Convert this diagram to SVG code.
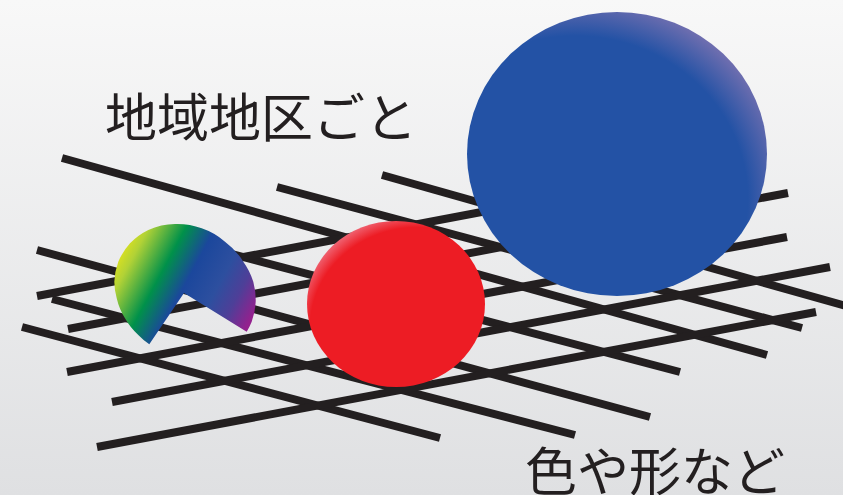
<svg xmlns="http://www.w3.org/2000/svg" width="843" height="495" viewBox="0 0 843 495">
  <defs>
    <linearGradient id="bg" x1="0" y1="0" x2="0" y2="1">
      <stop offset="0" stop-color="#f8f8f8"/>
      <stop offset="1" stop-color="#dfe0e2"/>
    </linearGradient>
    <linearGradient id="rainbow" gradientUnits="userSpaceOnUse" x1="120" y1="250" x2="250" y2="320">
      <stop offset="0" stop-color="#dfe21e"/>
      <stop offset="0.1" stop-color="#b2d236"/>
      <stop offset="0.32" stop-color="#00914a"/>
      <stop offset="0.5" stop-color="#1b479c"/>
      <stop offset="0.7" stop-color="#2d4f9f"/>
      <stop offset="0.85" stop-color="#4e3f98"/>
      <stop offset="1" stop-color="#93218e"/>
    </linearGradient>
    <radialGradient id="redg" cx="0.62" cy="0.64" r="0.7">
      <stop offset="0" stop-color="#ed1c24"/>
      <stop offset="0.86" stop-color="#ed1c24"/>
      <stop offset="1" stop-color="#f07080"/>
    </radialGradient>
    <radialGradient id="blueg" cx="0.36" cy="0.66" r="0.72">
      <stop offset="0" stop-color="#2352a5"/>
      <stop offset="0.8" stop-color="#2352a5"/>
      <stop offset="1" stop-color="#7470b0"/>
    </radialGradient>
    <style>
      .ln { stroke: #231f20; stroke-width: 8; stroke-linecap: butt; fill: none; }
      .lbl { font-family: "Noto Sans CJK JP", "Noto Sans CJK SC", sans-serif; font-size: 52px; fill: #231f20; }
    </style>
  </defs>

  <rect x="0" y="0" width="843" height="495" fill="url(#bg)"/>

  <g id="connectors">
    <line class="ln" x1="62" y1="158" x2="767" y2="355"/>
    <line class="ln" x1="277" y1="187" x2="802" y2="328"/>
    <line class="ln" x1="382" y1="175" x2="846" y2="306"/>
    <line class="ln" x1="190" y1="243" x2="680" y2="372"/>
    <line class="ln" x1="37" y1="250" x2="650" y2="417"/>
    <line class="ln" x1="52" y1="299" x2="575" y2="435"/>
    <line class="ln" x1="22" y1="327" x2="440" y2="438"/>
    <line class="ln" x1="37" y1="296" x2="720" y2="167"/>
    <line class="ln" x1="68" y1="329" x2="788" y2="193"/>
    <line class="ln" x1="67" y1="372" x2="787" y2="237"/>
    <line class="ln" x1="112" y1="402" x2="830" y2="267"/>
    <line class="ln" x1="97" y1="447" x2="816" y2="312"/>
  </g>

  <g id="pacman">
    <path fill="url(#rainbow)" d="M184,293 L149.3,344.3 A66,66 0 0 1 138.3,335 A66,66 0 0 1 125,318.3 A66,66 0 0 1 116.7,298.3 A66,66 0 0 1 114.3,281.7 A66,66 0 0 1 118.3,261.7 A66,66 0 0 1 130,243.3 A66,66 0 0 1 148.3,230 A66,66 0 0 1 175,224 A70,70 0 0 1 201.7,228.3 A70,70 0 0 1 225,241.7 A70,70 0 0 1 243.3,261.7 A70,70 0 0 1 253.3,281.7 A70,70 0 0 1 255.7,301.7 A70,70 0 0 1 251.7,321.7 A70,70 0 0 1 246.7,331.7 Z"/>
  </g>

  <g id="red-ball">
    <ellipse cx="396" cy="304" rx="89" ry="83" fill="url(#redg)"/>
  </g>

  <g id="blue-ball">
    <ellipse cx="617" cy="154" rx="150" ry="142" fill="url(#blueg)"/>
  </g>

  <g id="label-top">
    <text class="lbl" x="105" y="137">地域地区ごと</text>
  </g>

  <g id="label-bottom">
    <text class="lbl" x="525" y="491">色や形など</text>
  </g>
</svg>
